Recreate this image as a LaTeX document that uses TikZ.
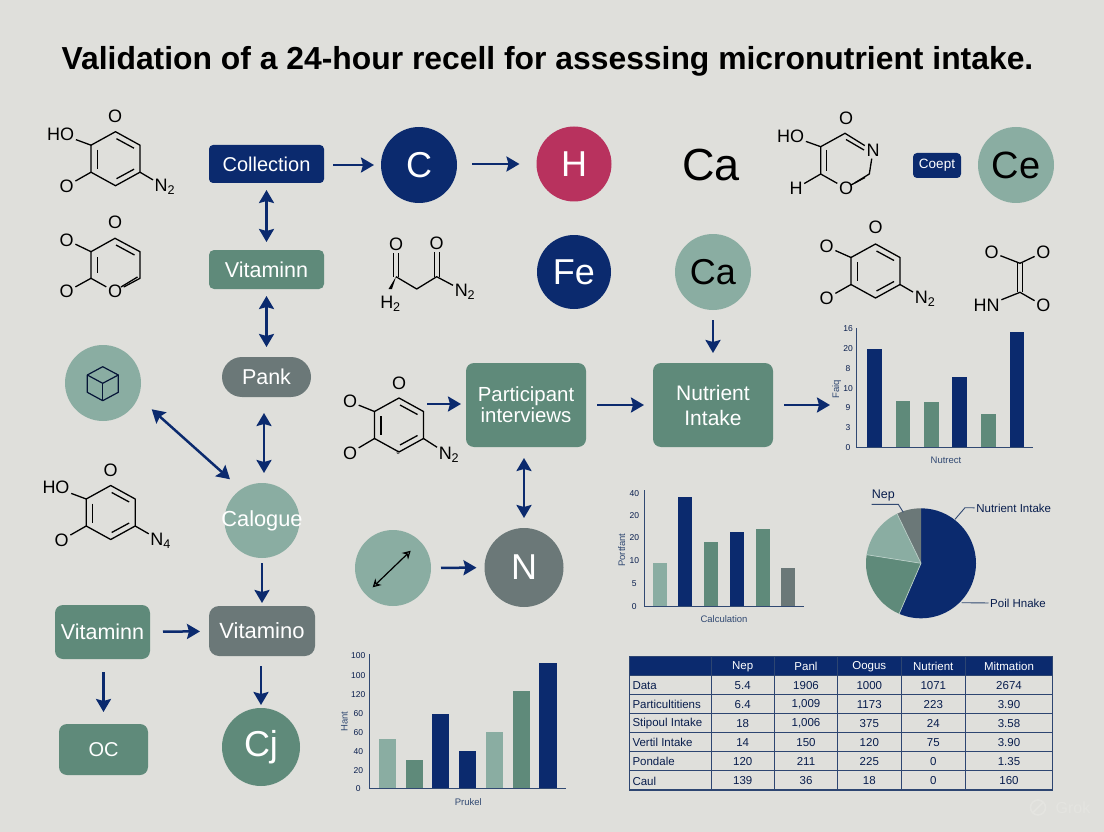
\documentclass[tikz,border=0pt]{standalone}
\usepackage{fontspec}
\setmainfont{Liberation Sans}
\usetikzlibrary{arrows.meta, positioning}
\definecolor{paper}{HTML}{DFDFDB}
\definecolor{navy}{HTML}{0B2A6E}
\definecolor{sage}{HTML}{5F8A7A}
\definecolor{mist}{HTML}{8AADA2}
\definecolor{slate}{HTML}{6B7878}
\definecolor{rose}{HTML}{B8325E}
\newcommand{\fsz}[1]{\fontsize{#1}{#1}\selectfont}
\tikzstyle{diredge}   = [navy, line width=2.5pt, ->, >={Stealth[length=13pt,width=15pt,inset=2pt]}]
\tikzstyle{dbledge}   = [navy, line width=2.5pt, <->, >={Stealth[length=13pt,width=15pt,inset=2pt]}]
\tikzstyle{bond}      = [black, line width=1.3pt, line join=round]
\tikzstyle{atom}      = [inner sep=1.5pt, font=\fsz{18}, text=black]
\tikzstyle{block}     = [inner sep=0pt, outer sep=0pt, text=white, align=center, font=\fsz{21.5}]
\tikzstyle{navyblock} = [block, fill=navy, rounded corners=4pt]
\tikzstyle{sageblock} = [block, fill=sage, rounded corners=8pt]
\tikzstyle{slateblock}= [block, fill=slate, rounded corners=10pt]
\tikzstyle{disc}      = [circle, inner sep=0pt, outer sep=0pt, text=white, font=\fsz{36}]
\tikzstyle{tick}      = [font=\fsz{8.5}, text=navy!70!black, inner sep=0pt]
\tikzstyle{axislabel} = [font=\fsz{9.5}, text=navy!60!slate, inner sep=0pt]
\tikzstyle{axis}      = [navy!60!slate, line width=1pt]
\tikzstyle{navybar}   = [fill=navy]
\tikzstyle{sagebar}   = [fill=sage]
\tikzstyle{mistbar}   = [fill=mist]
\tikzstyle{slatebar}  = [fill=slate]
\tikzstyle{leader}    = [navy!60!slate, line width=0.9pt]
\tikzstyle{pielabel}  = [font=\fsz{11.5}, text=navy!70!black, inner sep=1.5pt]
\tikzstyle{pieseam}   = [mist!60!white, line width=0.7pt]
\tikzstyle{rule}      = [navy!65!slate, line width=1.1pt]
\tikzstyle{cell}      = [font=\fsz{11.5}, text=navy!70!black, inner sep=0pt]
\tikzstyle{headcell}  = [font=\fsz{11.5}, text=white, inner sep=0pt]
\tikzstyle{faintmark} = [draw=paper!85!white, line width=1.6pt]
\newcommand{\hexring}[3]{%
  \coordinate (#1T) at (#2,#3-27);
  \coordinate (#1UR) at (#2+24.5,#3-13.5);
  \coordinate (#1LR) at (#2+24.5,#3+13.5);
  \coordinate (#1B) at (#2,#3+27);
  \coordinate (#1LL) at (#2-24.5,#3+13.5);
  \coordinate (#1UL) at (#2-24.5,#3-13.5);
  \draw[bond] (#1T) -- (#1UR) -- (#1LR) -- (#1B) -- (#1LL) -- (#1UL) -- cycle;
  \draw[bond] (#2-18,#3-9) -- (#2-18,#3+10);
  \draw[bond] (#2+1,#3-20) -- (#2+18.5,#3-10.5);
  \draw[bond] (#2+1,#3+20) -- (#2+18.5,#3+10.5);
}
\begin{document}
\begin{tikzpicture}[x=1pt,y=-1pt]

\fill[paper] (0,0) rectangle (1104,832);
\useasboundingbox (0,0) rectangle (1104,832);

\node[font=\fsz{31.85}\bfseries, inner sep=0pt] (Title) at (547.5,61) {Validation of a 24-hour recell for assessing micronutrient intake.};

% left and upper flow
\node[navyblock, minimum width=115pt, minimum height=38pt, font=\fsz{20}] (Collection) at (266.5,164) {Collection};
\node[disc, fill=navy, minimum size=76pt] (C) at (419,165) {C};
\node[disc, fill=rose, minimum size=75pt] (H) at (574,164) {H};
\node[text=black, font=\fsz{45}, inner sep=0pt] (CaPlain) at (711,165) {Ca};
\node[navyblock, minimum width=48pt, minimum height=25pt, font=\fsz{13.5}] (Coept) at (937,165.5) {\raisebox{-1.5pt}{Coept}};
\node[disc, fill=mist, text=black, font=\fsz{38}, minimum size=76pt] (Ce) at (1016,165) {Ce};

\node[sageblock, rounded corners=5pt, minimum width=115pt, minimum height=39pt] (VitA) at (266.5,269.5) {Vitaminn};
\node[disc, fill=navy, minimum size=74pt] (Fe) at (574,272) {Fe};
\node[disc, fill=mist, text=black, minimum size=76pt] (CaDisc) at (713,272) {Ca};

\node[slateblock, rounded corners=20pt, minimum width=89pt, minimum height=40pt] (Pank) at (266.5,377) {Pank};
\node[disc, fill=mist, minimum size=76pt] (Cube) at (103,383) {};
\node[sageblock, font=\fsz{20.4}, minimum width=120pt, minimum height=84pt] (Part) at (526,405) {\raisebox{-2pt}{Participant}\\[1pt]\raisebox{-2pt}{interviews}};
\node[sageblock, font=\fsz{21}, minimum width=120pt, minimum height=84pt] (Intake) at (713,405) {Nutrient\\[4pt]Intake};
\node[disc, fill=mist, minimum size=75pt] (Calogue) at (262,520.5) {};
\node[font=\fsz{21.8}, text=white, inner sep=0pt] (CalogueText) at (262,520.5) {\raisebox{-2pt}{Calogue}};
\node[disc, fill=mist, minimum size=76pt] (Swap) at (393,568) {};
\node[disc, fill=slate, minimum size=79pt] (N) at (524,567.5) {N};

\node[sageblock, minimum width=95pt, minimum height=54pt] (VitB) at (102.5,632) {Vitaminn};
\node[slateblock, font=\fsz{22}, minimum width=106pt, minimum height=50pt] (VitC) at (262,631) {Vitamino};
\node[sageblock, font=\fsz{20}, minimum width=89pt, minimum height=51pt] (Oc) at (103.5,749.5) {OC};
\node[disc, fill=sage, minimum size=78pt] (Cj) at (261,747) {Cj};

% free ends
\coordinate (CubeEnd) at (151.7,409.3);
\coordinate (CalEnd) at (230,479.3);
\coordinate (RingOut) at (427,404);
\coordinate (PartIn) at (461,404);
\coordinate (ChartIn) at (830,405);
\coordinate (IntakeOut) at (784,405);
\coordinate (SwapA) at (372.7,587.3);
\coordinate (SwapB) at (410.7,550.7);

\draw[diredge, shorten <=9pt, shorten >=7pt] (Collection.east |- C) -- (C);
\draw[diredge, shorten <=15pt, shorten >=17pt] (C.east |- H) -- (H);
\draw[dbledge, shorten <=7pt, shorten >=8pt] (Collection) -- (VitA);
\draw[dbledge, shorten <=7pt, shorten >=10pt] (VitA) -- (Pank);
\draw[dbledge, shorten <=16pt, shorten >=10pt] (Pank.south -| 264,0) -- (Calogue.north -| 264,0);
\draw[dbledge] (CubeEnd) -- (CalEnd);
\draw[diredge, shorten <=5pt, shorten >=3pt] (Calogue) -- (Calogue |- VitC.north);
\draw[diredge, shorten <=13pt, shorten >=9pt] (VitB) -- (VitC);
\draw[diredge, shorten <=10pt, shorten >=3pt] (VitC.south -| Cj) -- (Cj);
\draw[diredge, shorten <=13pt, shorten >=12pt] (VitB.south -| Oc) -- (Oc);
\draw[diredge] (RingOut) -- (PartIn);
\draw[diredge, shorten <=11pt, shorten >=9pt] (Part) -- (Intake);
\draw[diredge] (IntakeOut) -- (ChartIn);
\draw[diredge, shorten <=10pt, shorten >=10pt] (CaDisc) -- (Intake);
\draw[dbledge, shorten <=11pt, shorten >=10pt] (Part.south -| N) -- (N);
\draw[diredge, shorten <=10pt, shorten >=8pt] (Swap) -- (N);

% icons in the two empty discs
\draw[black, line width=1.2pt, <->, >={Stealth[length=8pt,width=9pt,open]}] (SwapA) -- (SwapB);
\coordinate (CubeC) at (102.7,383.3);
\draw[navy!50!black, line width=1.2pt, line join=round] (102.7,366.7) -- (118.3,375) -- (118.3,392.3) -- (102.7,400.7) -- (87.3,392.3) -- (87.3,375) -- cycle;
\draw[navy!50!black, line width=1.2pt, line join=round] (87.3,375) -- (CubeC) -- (118.3,375);
\draw[navy!50!black, line width=1.2pt] (CubeC) -- (102.7,400.7);

% molecules
\hexring{M1}{115.5}{158.7}
\node[atom] (M1O) at (115,116.7) {O};
\node[atom] (M1HO) at (60.7,134) {HO};
\node[atom] (M1OL) at (66.7,186) {O};
\node[atom] (M1N) at (165,187) {N\textsubscript{2}};
\draw[bond] (M1UL) -- (M1HO);
\draw[bond] (M1LL) -- (M1OL);
\draw[bond] (M1LR) -- (M1N);

\node[atom] (M2O) at (115,222) {O};
\node[atom] (M2OA) at (66.7,240) {O};
\node[atom] (M2OB) at (66.7,291.7) {O};
\node[atom] (M2OR) at (115,291.7) {O};
\coordinate (M2T) at (115,238.3);
\coordinate (M2UR) at (140,251.7);
\coordinate (M2LR) at (140,278.3);
\coordinate (M2LL) at (91,278.3);
\coordinate (M2UL) at (91,251.7);
\draw[bond] (M2OR) -- (M2LR) -- (M2UR) -- (M2T) -- (M2UL) -- (M2LL) -- (M2OR);
\draw[bond] (97.5,257) -- (97.5,273);
\draw[bond] (116,245) -- (134.5,255);
\draw[bond] (121,287) -- (137.5,277);
\draw[bond] (M2UL) -- (M2OA);
\draw[bond] (M2LL) -- (M2OB);

\hexring{M3}{110.7}{512.5}
\node[atom] (M3O) at (110.7,470) {O};
\node[atom] (M3HO) at (56,487.7) {HO};
\node[atom] (M3OL) at (61.7,540) {O};
\node[atom] (M3N) at (160.7,540.7) {N\textsubscript{4}};
\draw[bond] (M3UL) -- (M3HO);
\draw[bond] (M3LL) -- (M3OL);
\draw[bond] (M3LR) -- (M3N);

\hexring{M4}{399}{425}
\node[atom] (M4O) at (399,383.3) {O};
\node[atom] (M4OA) at (350,401.7) {O};
\node[atom] (M4OB) at (350,453) {O};
\node[atom] (M4N) at (449,455) {N\textsubscript{2}};
\node[font=\fsz{6}, inner sep=0pt] (M4C) at (398,453) {c};
\draw[bond] (M4UL) -- (M4OA);
\draw[bond] (M4LL) -- (M4OB);
\draw[bond] (M4LR) -- (M4N);

\node[atom] (M5O) at (846,118.3) {O};
\node[atom] (M5HO) at (790.7,136) {HO};
\node[atom] (M5H) at (796,188.3) {H};
\node[atom] (M5NR) at (873,150.7) {N};
\node[atom] (M5OR) at (846,188.3) {O};
\coordinate (M5T) at (845,133.3);
\coordinate (M5UL) at (820.7,146.7);
\coordinate (M5LL) at (820.7,174);
\coordinate (M5LR) at (869.3,174);
\draw[bond] (M5NR) -- (M5T) -- (M5UL) -- (M5LL) -- (M5OR) -- (M5LR) -- (M5NR);
\draw[bond] (826.7,150) -- (826.7,171);
\draw[bond] (846,139.5) -- (864,150);
\draw[bond] (851,185) -- (865,177.5);
\draw[bond] (M5UL) -- (M5HO);
\draw[bond] (M5LL) -- (M5H);

\hexring{M6}{875.5}{271}
\node[atom] (M6O) at (875.7,227.7) {O};
\node[atom] (M6OA) at (826.7,246.7) {O};
\node[atom] (M6OB) at (826.7,298.3) {O};
\node[atom] (M6N) at (925,299) {N\textsubscript{2}};
\draw[bond] (M6UL) -- (M6OA);
\draw[bond] (M6LL) -- (M6OB);
\draw[bond] (M6LR) -- (M6N);

\node[atom] (M7OA) at (991.7,252.3) {O};
\node[atom] (M7OB) at (1043.3,252.3) {O};
\node[atom] (M7HN) at (986.7,305.7) {HN};
\node[atom] (M7OC) at (1043.3,305.7) {O};
\coordinate (M7U) at (1020,263.3);
\coordinate (M7L) at (1020,292.3);
\draw[bond] (1017.5,263.3) -- (1017.5,292.3);
\draw[bond] (1022.5,263.3) -- (1022.5,292.3);
\draw[bond] (M7U) -- (M7OA);
\draw[bond] (M7U) -- (M7OB);
\draw[bond] (M7L) -- (M7HN);
\draw[bond] (M7L) -- (M7OC);

\node[atom] (M8OA) at (396,244) {O};
\node[atom] (M8OB) at (436.7,243.3) {O};
\node[atom] (M8N) at (465,291.7) {N\textsubscript{2}};
\node[atom] (M8H) at (390.5,304) {H\textsubscript{2}};
\coordinate (M8A) at (396,276.7);
\coordinate (M8M) at (416.7,289);
\coordinate (M8B) at (436.7,276.7);
\draw[bond] (M8A) -- (M8M) -- (M8B) -- (M8N);
\draw[bond] (393.5,253) -- (393.5,276.7);
\draw[bond] (398.5,253) -- (398.5,276.7);
\draw[bond] (434.2,252) -- (434.2,276.7);
\draw[bond] (439.2,252) -- (439.2,276.7);
\fill[black] (M8A) -- (392,289) -- (388.5,289) -- cycle;

% right chart
\fill[navybar] (867.3,447.3) rectangle (881.7,349.3);
\fill[sagebar] (895.7,447.3) rectangle (910,400.7);
\fill[sagebar] (924.3,447.3) rectangle (938.7,402);
\fill[navybar] (952.3,447.3) rectangle (966.7,376.7);
\fill[sagebar] (981.3,447.3) rectangle (995.7,414);
\fill[navybar] (1010,447.3) rectangle (1024,331.7);
\draw[axis] (856.7,328) -- (856.7,447.3) -- (1033,447.3);
\node[tick] (R16) at (848,328.3) {16};
\node[tick] (R20) at (848,349) {20};
\node[tick] (R8) at (848,368.7) {8};
\node[tick] (R10) at (848,388.3) {10};
\node[tick] (R9) at (848,408) {9};
\node[tick] (R3) at (848,427.7) {3};
\node[tick] (R0) at (848,447.3) {0};
\node[axislabel, rotate=90] (RY) at (836.7,389) {Faiq};
\node[axislabel] (RX) at (946,460) {Nutrect};

% middle chart
\fill[mistbar] (652.7,606.7) rectangle (667,563.3);
\fill[navybar] (678.3,606.7) rectangle (692.3,496.7);
\fill[sagebar] (704,606.7) rectangle (718.3,542.3);
\fill[navybar] (730,606.7) rectangle (744,532.3);
\fill[sagebar] (756,606.7) rectangle (770,529.3);
\fill[slatebar] (781,606.7) rectangle (795,568);
\draw[axis] (644,490) -- (644,606.7) -- (803.5,606.7);
\node[tick] (M40) at (634.3,493.3) {40};
\node[tick] (M20) at (634.3,515.7) {20};
\node[tick] (M20b) at (634.3,537.7) {20};
\node[tick] (M10) at (634.3,560.7) {10};
\node[tick] (M5) at (634.3,584) {5};
\node[tick] (M0) at (634.3,606.7) {0};
\node[axislabel, rotate=90] (MY) at (621.7,550) {Portfant};
\node[axislabel] (MX) at (724,619.3) {Calculation};

% lower chart
\fill[mistbar] (379,788.3) rectangle (396.3,739.3);
\fill[sagebar] (405.7,788.3) rectangle (423,760);
\fill[navybar] (432.3,788.3) rectangle (449.3,714);
\fill[navybar] (459,788.3) rectangle (476,750.7);
\fill[mistbar] (485.7,788.3) rectangle (503.3,732.3);
\fill[sagebar] (512.7,788.3) rectangle (530,691.3);
\fill[navybar] (539.3,788.3) rectangle (556.7,663);
\draw[axis] (369.3,654) -- (369.3,788.3) -- (566,788.3);
\node[tick] (L100) at (358.3,656) {100};
\node[tick] (L100b) at (358.3,675.3) {100};
\node[tick] (L120) at (358.3,694.7) {120};
\node[tick] (L60) at (358.3,714) {60};
\node[tick] (L60b) at (358.3,732.3) {60};
\node[tick] (L40) at (358.3,751.3) {40};
\node[tick] (L20) at (358.3,770.3) {20};
\node[tick] (L0) at (358.3,789) {0};
\node[axislabel, rotate=90] (LY) at (344.3,721.7) {Hant};
\node[axislabel] (LX) at (468.3,801.7) {Prukel};

% pie
\coordinate (PieC) at (921,563.3);
\fill[navy] (PieC) -- (921,508.3) arc[start angle=-90, end angle=113.4, radius=55] -- cycle;
\fill[sage] (PieC) -- +(113.4:55) arc[start angle=113.4, end angle=189, radius=55] -- cycle;
\fill[mist] (PieC) -- +(189:55) arc[start angle=189, end angle=244.2, radius=55] -- cycle;
\fill[slate] (PieC) -- +(244.2:55) arc[start angle=244.2, end angle=270, radius=55] -- cycle;
\draw[pieseam] (PieC) -- +(113.4:55);
\draw[pieseam] (PieC) -- +(189:55);
\draw[pieseam] (PieC) -- +(244.2:55);
\node[pielabel, font=\fsz{12.5}] (Nep) at (883.3,495.7) {Nep};
\node[pielabel] (PieA) at (1013.7,508.3) {Nutrient Intake};
\node[pielabel] (PieB) at (1018,603.3) {Poil Hnake};
\coordinate (NepA) at (871.7,504.3);
\coordinate (NepB) at (898.3,504.3);
\coordinate (NepC) at (903.3,512.3);
\coordinate (PieAA) at (965,507.7);
\coordinate (PieAB) at (955,519.3);
\coordinate (PieBA) at (961.7,602.7);
\draw[leader] (NepA) -- (NepB) -- (NepC);
\draw[leader] (PieA) -- (PieAA) -- (PieAB);
\draw[leader] (PieB) -- (PieBA);

% table
\fill[navy] (629.3,656.7) rectangle (1052.7,675.7);
\draw[rule] (629.3,656.7) rectangle (1052.7,790);
\draw[rule] (629.3,675.7) -- (1052.7,675.7);
\draw[rule] (629.3,694.7) -- (1052.7,694.7);
\draw[rule] (629.3,713.7) -- (1052.7,713.7);
\draw[rule] (629.3,732.7) -- (1052.7,732.7);
\draw[rule] (629.3,751.7) -- (1052.7,751.7);
\draw[rule] (629.3,770.7) -- (1052.7,770.7);
\draw[rule] (711.7,656.7) -- (711.7,790);
\draw[rule] (774.3,656.7) -- (774.3,790);
\draw[rule] (837.3,656.7) -- (837.3,790);
\draw[rule] (901.3,656.7) -- (901.3,790);
\draw[rule] (965.7,656.7) -- (965.7,790);

\node[headcell] (H1) at (742.7,666.5) {Nep};
\node[headcell] (H2) at (806,666.5) {Panl};
\node[headcell] (H3) at (869.3,666.5) {Oogus};
\node[headcell] (H4) at (933.3,666.5) {Nutrient};
\node[headcell] (H5) at (1009,666.5) {Mitmation};

\node[cell, anchor=west] (R1) at (632.3,685.5) {Data};
\node[cell] (R1A) at (742.7,685.5) {5.4};
\node[cell] (R1B) at (806,685.5) {1906};
\node[cell] (R1C) at (869.3,685.5) {1000};
\node[cell] (R1D) at (933.3,685.5) {1071};
\node[cell] (R1E) at (1009,685.5) {2674};

\node[cell, anchor=west] (R2) at (632.3,704.5) {Particultitiens};
\node[cell] (R2A) at (742.7,704.5) {6.4};
\node[cell] (R2B) at (806,704.5) {1,009};
\node[cell] (R2C) at (869.3,704.5) {1173};
\node[cell] (R2D) at (933.3,704.5) {223};
\node[cell] (R2E) at (1009,704.5) {3.90};

\node[cell, anchor=west] (R3) at (632.3,723.5) {Stipoul Intake};
\node[cell] (R3A) at (742.7,723.5) {18};
\node[cell] (R3B) at (806,723.5) {1,006};
\node[cell] (R3C) at (869.3,723.5) {375};
\node[cell] (R3D) at (933.3,723.5) {24};
\node[cell] (R3E) at (1009,723.5) {3.58};

\node[cell, anchor=west] (R4) at (632.3,742.5) {Vertil Intake};
\node[cell] (R4A) at (742.7,742.5) {14};
\node[cell] (R4B) at (806,742.5) {150};
\node[cell] (R4C) at (869.3,742.5) {120};
\node[cell] (R4D) at (933.3,742.5) {75};
\node[cell] (R4E) at (1009,742.5) {3.90};

\node[cell, anchor=west] (R5) at (632.3,761.5) {Pondale};
\node[cell] (R5A) at (742.7,761.5) {120};
\node[cell] (R5B) at (806,761.5) {211};
\node[cell] (R5C) at (869.3,761.5) {225};
\node[cell] (R5D) at (933.3,761.5) {0};
\node[cell] (R5E) at (1009,761.5) {1.35};

\node[cell, anchor=west] (R6) at (632.3,781) {Caul};
\node[cell] (R6A) at (742.7,781) {139};
\node[cell] (R6B) at (806,781) {36};
\node[cell] (R6C) at (869.3,781) {18};
\node[cell] (R6D) at (933.3,781) {0};
\node[cell] (R6E) at (1009,781) {160};

% watermark
\node[text=paper!85!white, font=\fsz{16}, inner sep=0pt] (Grok) at (1073,808) {Grok};
\node[circle, inner sep=0pt, outer sep=0pt, minimum size=15pt, faintmark] (GrokMark) at (1038,807.5) {};
\draw[faintmark] (GrokMark.south west) -- (GrokMark.north east);

\end{tikzpicture}
\end{document}
